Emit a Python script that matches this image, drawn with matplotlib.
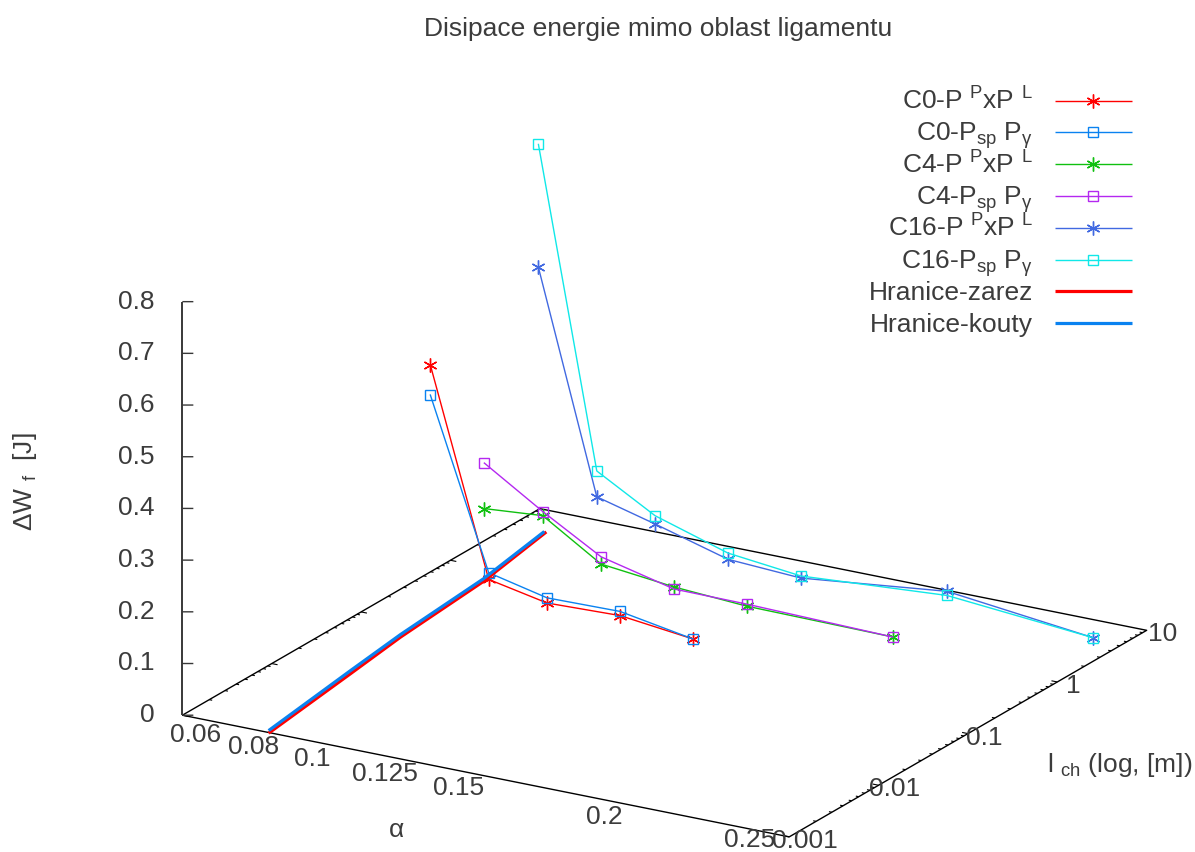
import numpy as np
import matplotlib
matplotlib.use("Agg")
import matplotlib.pyplot as plt
from matplotlib.lines import Line2D
from mpl_toolkits.mplot3d import proj3d

plt.rcParams['font.family'] = ['Liberation Sans', 'DejaVu Sans']
plt.rcParams['mathtext.default'] = 'regular'

# Data
alphaC0 = [0.06, 0.08, 0.1, 0.125, 0.15]
alphaC4 = [0.06, 0.08, 0.1, 0.125, 0.15, 0.2]
alphaC16 = [0.06, 0.08, 0.1, 0.125, 0.15, 0.2, 0.25]

lchC0 = 0.281
lchC4 = 1.13
lchC16 = 4.55

wC0Star = [0.444, 0.052, 0.029, 0.033, 0.016]
wC0Box = [0.386, 0.065, 0.039, 0.041, 0.016]
wC4Star = [0.106, 0.115, 0.044, 0.028, 0.019, 0.016]
wC4Box = [0.194, 0.123, 0.058, 0.024, 0.023, 0.016]
wC16Star = [0.512, 0.091, 0.061, 0.021, 0.013, 0.044, 0.011]
wC16Box = [0.750, 0.141, 0.077, 0.033, 0.017, 0.036, 0.011]

alphaBoundary = 0.08
lchBoundaryNotch = [0.001, 0.0079, 0.029, 0.243, 1.2]
wBoundaryNotch = [0.001, 0.024, 0.039, 0.054, 0.079]
lchBoundaryCorner = [0.001, 0.0079, 0.029, 0.243, 1.14]
wBoundaryCorner = [0.006, 0.030, 0.044, 0.059, 0.082]

alphaTicks = [0.06, 0.08, 0.1, 0.125, 0.15, 0.2, 0.25]
alphaLabels = ['0.06', '0.08', '0.1', '0.125', '0.15', '0.2', '0.25']
lchTicks = [0.001, 0.01, 0.1, 1, 10]
lchLabels = ['0.001', '0.01', '0.1', '1', '10']
wTicks = [0, 0.1, 0.2, 0.3, 0.4, 0.5, 0.6, 0.7, 0.8]
wLabels = ['0', '0.1', '0.2', '0.3', '0.4', '0.5', '0.6', '0.7', '0.8']

legendLabels = ['C0-P $^{P}$xP $^{L}$', 'C0-P$_{sp}$ P$_{γ}$',
                'C4-P $^{P}$xP $^{L}$', 'C4-P$_{sp}$ P$_{γ}$',
                'C16-P $^{P}$xP $^{L}$', 'C16-P$_{sp}$ P$_{γ}$',
                'Hranice-zarez', 'Hranice-kouty']
colors = ['#ff0000', '#0a82f0', '#10c010', '#b428f0', '#4169e1', '#10e8e8', '#ff0000', '#0a82f0']

STAR = (6, 2, 0)
FONT = 19
TEXT = '#3c3c3c'
W, H = 1195, 852
XMIN, XMAX = 0.05, 0.258
YMIN, YMAX = -3, 1
ZMIN, ZMAX = 0, 0.8

fig = plt.figure(figsize=(W / 100, H / 100), dpi=100)

# Square axes that holds the whole box, zoom chosen so one box side is about 705 px
side = 1300
centerX, centerY = 664.5, H - 466
left = centerX - 0.5135 * side
bottom = centerY - 0.5135 * side
ax = fig.add_axes([left / W, bottom / H, side / W, side / H], projection='3d', proj_type='ortho')
ax.set_box_aspect((704.6, 704.6, 440), zoom=1057 / side)
ax.view_init(elev=19.9, azim=-59.5)
ax.set_xlim(XMIN, XMAX)
ax.set_ylim(YMIN, YMAX)
ax.set_zlim(ZMIN, ZMAX)
ax.set_axis_off()
ax.computed_zorder = False
proj = ax.get_proj()


def line3d(xs, ys, zs, color='black', lw=1.0):
    ax.plot(xs, ys, zs, color=color, lw=lw, solid_capstyle='butt')


# Tick label at a 3d spot, kept as a plain 2d text in the axes
def label3d(x, y, z, text, ha):
    px, py, _ = proj3d.proj_transform(x, y, z, proj)
    ax.text2D(px, py, text, transform=ax.transData, ha=ha, va='center', fontsize=FONT, color=TEXT)


# Base rectangle
line3d([XMIN, XMAX, XMAX, XMIN, XMIN], [YMIN, YMIN, YMAX, YMAX, YMIN], [0, 0, 0, 0, 0])

# Log ticks on both alpha edges of the base
for decade in range(-3, 1):
    for m in range(1, 10):
        pos = decade + np.log10(m)
        size = 0.002 if m == 1 else 0.001
        line3d([XMAX, XMAX - size], [pos, pos], [0, 0], lw=0.8)
        line3d([XMIN, XMIN + size], [pos, pos], [0, 0], lw=0.8)

# Vertical axis, its ticks run flat on the screen
line3d([XMIN, XMIN], [YMIN, YMIN], [ZMIN, ZMAX], color='#383838', lw=1.4)
for z, lab in zip(wTicks, wLabels):
    line3d([XMIN, XMIN + 0.0028], [YMIN, YMIN + 0.0314], [z, z], color='#383838', lw=1.0)
    label3d(XMIN - 0.00714, YMIN - 0.08, z, lab, 'right')

# the last alpha label is lifted a little, it would run off the bottom
for a, lab in zip(alphaTicks, alphaLabels):
    label3d(a + 0.0023, YMIN - 0.2535, 0.012 if lab == '0.25' else 0, lab, 'center')

for l, lab in zip(lchTicks, lchLabels):
    label3d(XMAX + 0.0058, np.log10(l) - 0.0116, 0, lab, 'center')

# Measured series
seriesList = [(alphaC0, lchC0, wC0Star, STAR), (alphaC0, lchC0, wC0Box, 's'),
              (alphaC4, lchC4, wC4Star, STAR), (alphaC4, lchC4, wC4Box, 's'),
              (alphaC16, lchC16, wC16Star, STAR), (alphaC16, lchC16, wC16Box, 's')]
for i, (al, lc, ws, mk) in enumerate(seriesList):
    ax.plot(al, np.full(len(al), np.log10(lc)), ws, color=colors[i], lw=1.0, marker=mk,
            ms=10 if mk == STAR else 7.5, mew=1.0, mfc='none')

# Boundaries
ax.plot(np.full(len(lchBoundaryNotch), alphaBoundary), np.log10(lchBoundaryNotch), wBoundaryNotch,
        color=colors[6], lw=2.3)
ax.plot(np.full(len(lchBoundaryCorner), alphaBoundary), np.log10(lchBoundaryCorner), wBoundaryCorner,
        color=colors[7], lw=2.3)

# Legend, laid out by hand like gnuplot's key
markers = [STAR, 's', STAR, 's', STAR, 's', None, None]
for i, lab in enumerate(legendLabels):
    rowY = 100.5 + i * 31.8
    fig.text(1033 / W, 1 - (rowY + 9) / H, lab, ha='right', va='baseline', fontsize=FONT, color=TEXT)
    thick = markers[i] is None
    fig.add_artist(Line2D([1055 / W, 1132 / W], [1 - rowY / H] * 2, color=colors[i],
                          lw=2.3 if thick else 1.0, solid_capstyle='butt'))
    if not thick:
        fig.add_artist(Line2D([1093 / W], [1 - rowY / H], color=colors[i], marker=markers[i],
                              ms=10 if markers[i] == STAR else 7.5, mew=1.0, mfc='none'))

# Titles
fig.text(658 / W, 1 - 29 / H, 'Disipace energie mimo oblast ligamentu', ha='center', va='center',
         fontsize=FONT, color=TEXT)
fig.text(396 / W, 1 - 830 / H, 'α', ha='center', va='center', fontsize=FONT, color=TEXT)
fig.text(1120 / W, 1 - 765 / H, 'l $_{ch}$ (log, [m])', ha='center', va='center', fontsize=FONT, color=TEXT)
fig.text(25 / W, 1 - 482 / H, 'ΔW $_{f}$  [J]', ha='center', va='center', rotation=90,
         fontsize=FONT, color=TEXT)

fig.savefig('out.png', dpi=100)
